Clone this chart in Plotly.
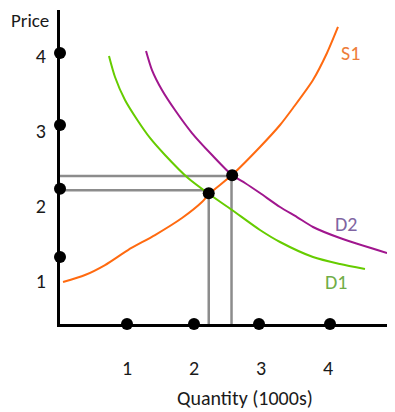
import plotly.graph_objects as go

# ---- data ----
s1_q = [0.045, 0.373, 0.672, 1.015, 1.418, 1.821, 2.119, 2.224, 2.567, 2.985, 3.284, 3.478, 3.776, 3.985, 4.149]
s1_p = [0.987, 1.08, 1.213, 1.413, 1.613, 1.84, 2.053, 2.16, 2.413, 2.787, 3.08, 3.307, 3.68, 4.04, 4.387]

d1_q = [0.731, 0.821, 0.970, 1.164, 1.343, 1.567, 1.910, 2.224, 2.567, 2.985, 3.284, 3.776, 4.179, 4.552]
d1_p = [4.0, 3.72, 3.413, 3.133, 2.907, 2.68, 2.373, 2.16, 1.947, 1.68, 1.52, 1.32, 1.227, 1.16]

d2_q = [1.284, 1.373, 1.522, 1.716, 1.970, 2.269, 2.567, 2.761, 2.985, 3.284, 3.537, 3.776, 4.179, 4.881]
d2_p = [4.067, 3.813, 3.547, 3.28, 2.973, 2.68, 2.413, 2.307, 2.173, 1.987, 1.853, 1.72, 1.573, 1.373]

eq_q = [2.22, 2.57]
eq_p = [2.17, 2.41]

guide_q = [2.22, 2.56]
guide_p = [2.21, 2.40]

price_dots = [4.04, 3.08, 2.23, 1.32]
qty_dots = [1.0, 2.0, 2.97, 4.03]

tick_vals = [1, 2, 3, 4]
tick_text = ["1", "2", "3", "4"]

curve_names = ["S1", "D2", "D1"]
label_q = [4.34, 4.27, 4.12]
label_p = [4.04, 1.76, 0.99]

X_RANGE = [0, 5.0]
Y_RANGE = [0.427, 4.613]

FONT = "Calibri, Carlito, Lato, sans-serif"
TXT = "#1a1a1a"
FS = 20

fig = go.Figure()

# guide lines
grey = dict(color="#8C8C8C", width=2.5)
for gq, gp in zip(guide_q, guide_p):
    fig.add_trace(go.Scatter(x=[X_RANGE[0], gq], y=[gp, gp], mode="lines", line=grey,
                             hoverinfo="skip", cliponaxis=False))
    fig.add_trace(go.Scatter(x=[gq, gq], y=[gp, Y_RANGE[0]], mode="lines", line=grey,
                             hoverinfo="skip", cliponaxis=False))

# curves
fig.add_trace(go.Scatter(x=s1_q, y=s1_p, mode="lines", line=dict(color="#FF6A10", width=2, shape="spline", smoothing=0.7)))
fig.add_trace(go.Scatter(x=d1_q, y=d1_p, mode="lines", line=dict(color="#66CC00", width=2, shape="spline", smoothing=0.7)))
fig.add_trace(go.Scatter(x=d2_q, y=d2_p, mode="lines", line=dict(color="#A0168E", width=2, shape="spline", smoothing=0.7)))

# dots
dot = dict(color="black", size=12)
fig.add_trace(go.Scatter(x=eq_q, y=eq_p, mode="markers", marker=dot, cliponaxis=False))
fig.add_trace(go.Scatter(x=[X_RANGE[0]] * len(price_dots), y=price_dots, mode="markers", marker=dot, cliponaxis=False))
fig.add_trace(go.Scatter(x=qty_dots, y=[Y_RANGE[0]] * len(qty_dots), mode="markers", marker=dot, cliponaxis=False))

label_colors = ["#EE7D3A", "#8064A2", "#70AD47"]
for name, lq, lp, c in zip(curve_names, label_q, label_p, label_colors):
    fig.add_annotation(x=lq, y=lp, text=name, showarrow=False, xanchor="center", yanchor="middle",
                       font=dict(family=FONT, size=FS, color=c))

fig.add_annotation(xref="paper", yref="paper", x=-0.089, y=0.968, text="Price", showarrow=False,
                   xanchor="center", yanchor="middle", font=dict(family=FONT, size=FS - 1, color=TXT))
fig.add_annotation(xref="paper", yref="paper", x=0.5, y=0, xshift=17, yshift=-74, text="Quantity (1000s)",
                   showarrow=False, xanchor="center", yanchor="middle", font=dict(family=FONT, size=FS, color=TXT))

# page body has an 8px default margin, so the figure is 8px smaller each way
fig.update_layout(
    width=387, height=404,
    margin=dict(l=52, r=0, t=2, b=88, autoexpand=False),
    paper_bgcolor="white", plot_bgcolor="white",
    showlegend=False,
    xaxis=dict(range=X_RANGE, showgrid=False, zeroline=False, showline=True, linecolor="black", linewidth=3,
               tickvals=tick_vals, ticktext=tick_text, ticks="", ticklabelstandoff=24, automargin=False,
               tickfont=dict(family=FONT, size=FS, color=TXT), fixedrange=True),
    yaxis=dict(range=Y_RANGE, showgrid=False, zeroline=False, showline=True, linecolor="black", linewidth=3,
               tickvals=tick_vals, ticktext=tick_text, ticks="", ticklabelstandoff=7, automargin=False,
               tickfont=dict(family=FONT, size=FS, color=TXT), fixedrange=True),
)

fig.write_html("out.html", config={"displayModeBar": False})
